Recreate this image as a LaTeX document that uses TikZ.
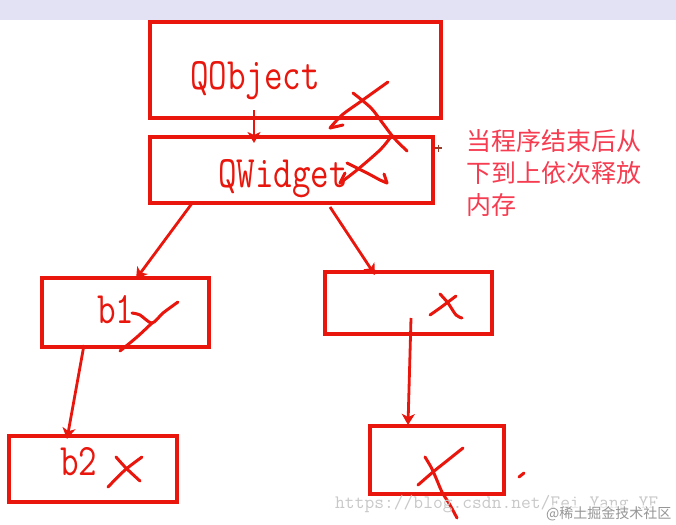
\documentclass[tikz,border=0pt]{standalone}
\usepackage{fontspec}
\newfontfamily\cjk{Noto Sans CJK SC}
\usetikzlibrary{arrows.meta,calc}
\definecolor{pen}{RGB}{232,22,12}
\definecolor{pink}{RGB}{245,60,80}
\definecolor{band}{RGB}{226,226,244}
\definecolor{wm}{RGB}{200,200,200}
\definecolor{wmdark}{RGB}{150,150,150}
\definecolor{plusc}{RGB}{150,60,40}
\newcommand{\tallt}[1]{\scalebox{1}[1.25]{#1}}
\tikzset{
  box/.style={draw=pen, line width=3.6pt, inner sep=0pt, outer sep=0pt},
  lbl/.style={text=pen, inner sep=0pt, anchor=base west, font=\fontsize{36}{36}\ttfamily},
  arr/.style={draw=pen, line width=2.8pt, -{Stealth[length=11pt,width=13pt,inset=3pt]}},
  hand/.style={draw=pen, line width=3pt, line cap=round, line join=round},
  note/.style={text=pink, inner sep=0pt, anchor=base west, font=\cjk\fontsize{25}{30}\selectfont}
}
\begin{document}
\begin{tikzpicture}[x=1pt,y=-1pt]
\useasboundingbox (0,0) rectangle (676,524);
\fill[band] (0,0) rectangle (676,20);

% boxes
\node[box, minimum width=291pt, minimum height=96pt] (qobject) at (295.5,70) {};
\node[box, minimum width=283pt, minimum height=66pt] (qwidget) at (291.5,170) {};
\node[box, minimum width=167pt, minimum height=69pt] (b1) at (125.5,312.5) {};
\node[box, minimum width=167pt, minimum height=62pt] (mid) at (408.5,303) {};
\node[box, minimum width=168pt, minimum height=66pt] (b2) at (93,469) {};
\node[box, minimum width=134pt, minimum height=68pt] (low) at (437,460) {};

% labels
\node[lbl] (tqobject) at (190,90) {\tallt{QObject}};
\node[lbl] (tqwidget) at (218,187) {\tallt{QWidget}};
\node[lbl] (tb1) at (97,323) {\tallt{b1}};
\node[lbl] (tb2) at (60,475) {\tallt{b2}};

% arrows
\coordinate (a1s) at ($(qobject.south west)+(104,-8)$);
\coordinate (a1e) at ($(qwidget.north west)+(104,6)$);
\draw[arr] (a1s) -- (a1e);
\coordinate (a2s) at ($(qwidget.south west)+(43,-1)$);
\coordinate (a2e) at ($(b1.north west)+(94,1)$);
\draw[arr] (a2s) -- (a2e);
\coordinate (a3s) at ($(qwidget.south west)+(180,4)$);
\coordinate (a3e) at ($(mid.north west)+(50,3)$);
\draw[arr] (a3s) -- (a3e);
\coordinate (a4s) at ($(b1.south west)+(42,-2)$);
\coordinate (a4e) at ($(b2.north west)+(58,3)$);
\draw[arr] (a4s) -- (a4e);
\coordinate (a5s) at ($(mid.south west)+(86,-16)$);
\coordinate (a5e) at ($(low.north west)+(38,-1)$);
\draw[arr] (a5s) -- (a5e);

% hand-drawn crosses
\draw[hand] plot[smooth] coordinates {(388,82) (360,102) (342,115) (330,128)};
\draw[hand] (330,128) -- (343,125);
\draw[hand] plot[smooth] coordinates {(353,93) (371,108) (384,125) (394,138) (407,151)};

\draw[hand] plot[smooth] coordinates {(390,138) (380,150) (357,170) (340,183)};
\draw[hand] (340,183) -- (345,173);
\draw[hand] plot[smooth] coordinates {(347,163) (367,173) (380,180) (387,183)};
\draw[hand] (387,183) -- (384,174);

\draw[hand] plot[smooth] coordinates {(132,313) (140,315) (152,323) (163,313) (178,302)};
\draw[hand] plot[smooth] coordinates {(152,323) (137,337) (120,351)};

\draw[hand] plot[smooth] coordinates {(430,315) (440,308) (448,302) (456,296)};
\draw[hand] plot[smooth] coordinates {(440,294) (448,303) (456,315) (462,318)};

\draw[hand] plot[smooth] coordinates {(116,457) (126,468) (140,481)};
\draw[hand] plot[smooth] coordinates {(142,457) (125,470) (108,487)};

\draw[hand] plot[smooth] coordinates {(425,457) (431,467) (436,478) (442,492) (450,505) (457,518)};
\draw[hand] plot[smooth] coordinates {(418,485) (433,472) (448,460) (463,448)};
\draw[hand] (519,477) -- (524,473);

% plus mark
\draw[plusc, line width=1.2pt] (435,148) -- (442,148) (438.5,144.5) -- (438.5,151.5);

% note
\node[note] (n1) at (466,150) {当程序结束后从};
\node[note] (n2) at (466,182) {下到上依次释放};
\node[note] (n3) at (466,214) {内存};

% watermark
\node[text=wm, inner sep=0pt, anchor=base west, font=\fontsize{19}{19}\ttfamily] (url) at (335,508) {https://blog.csdn.net/Fei\_Yang\_YF};
\node[text=wmdark, fill=white, fill opacity=0.6, text opacity=1, inner sep=1pt, anchor=base west, font=\cjk\fontsize{14}{14}\selectfont] (jj) at (545,518) {@稀土掘金技术社区};
\end{tikzpicture}
\end{document}
